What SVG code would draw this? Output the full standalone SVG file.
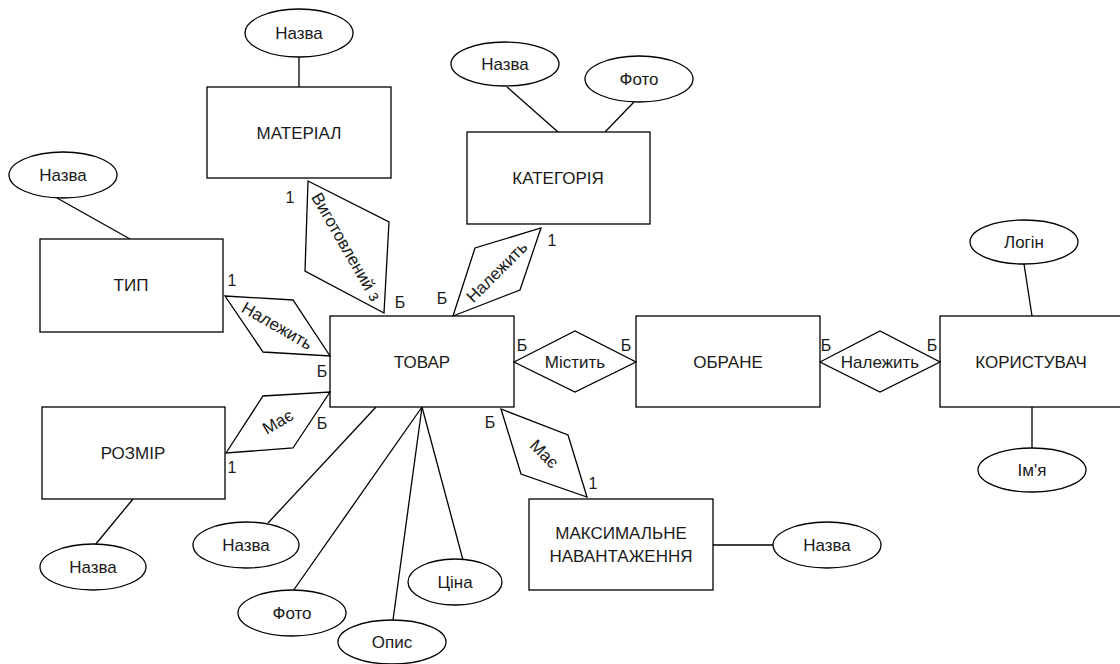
<svg xmlns="http://www.w3.org/2000/svg" width="1120" height="664" viewBox="0 0 1120 664">
<style>
.n{fill:#fff;stroke:#000;stroke-width:1.3}
.c{fill:none;stroke:#000;stroke-width:1.3}
text{font-family:"Liberation Sans",Arial,sans-serif;font-size:17px;fill:#1a1a1a;text-anchor:middle;dominant-baseline:central}
.l{font-size:16px}
</style>
<rect width="1120" height="664" fill="#fff"/>
<g id="connectors">
<line class="c" x1="299" y1="57" x2="299" y2="87"/>
<line class="c" x1="57" y1="198" x2="130" y2="239"/>
<line class="c" x1="507" y1="87" x2="558" y2="132"/>
<line class="c" x1="634" y1="102" x2="605" y2="132"/>
<line class="c" x1="1024" y1="264" x2="1032" y2="316"/>
<line class="c" x1="1032" y1="407" x2="1032" y2="448"/>
<line class="c" x1="133" y1="499" x2="95" y2="545"/>
<line class="c" x1="376" y1="407" x2="268" y2="523"/>
<line class="c" x1="422" y1="407" x2="293" y2="591"/>
<line class="c" x1="422" y1="407" x2="393" y2="620"/>
<line class="c" x1="422" y1="407" x2="463" y2="560"/>
<line class="c" x1="713" y1="545" x2="773" y2="545"/>
</g>
<g id="material"><rect class="n" x="207" y="87" width="184" height="91"/><text x="299" y="133">МАТЕРІАЛ</text></g>
<g id="category"><rect class="n" x="467" y="132" width="183" height="92"/><text x="558" y="178">КАТЕГОРІЯ</text></g>
<g id="type"><rect class="n" x="40" y="239" width="183" height="93"/><text x="131" y="285">ТИП</text></g>
<g id="tovar"><rect class="n" x="330" y="316" width="184" height="91"/><text x="422" y="362">ТОВАР</text></g>
<g id="obrane"><rect class="n" x="636" y="316" width="184" height="91"/><text x="728" y="362">ОБРАНЕ</text></g>
<g id="korystuvach"><rect class="n" x="940" y="316" width="184" height="91"/><text x="1031" y="362">КОРИСТУВАЧ</text></g>
<g id="rozmir"><rect class="n" x="42" y="407" width="183" height="92"/><text x="133" y="453">РОЗМІР</text></g>
<g id="maks"><rect class="n" x="529" y="499" width="184" height="91"/><text x="621" y="533">МАКСИМАЛЬНЕ</text><text x="621" y="556">НАВАНТАЖЕННЯ</text></g>

<g id="a-mat-nazva"><ellipse class="n" cx="299" cy="33" rx="54" ry="24"/><text x="299" y="33">Назва</text></g>
<g id="a-typ-nazva"><ellipse class="n" cx="63" cy="175" rx="54" ry="23"/><text x="63" y="175">Назва</text></g>
<g id="a-cat-nazva"><ellipse class="n" cx="505" cy="64" rx="54" ry="22"/><text x="505" y="64">Назва</text></g>
<g id="a-cat-foto"><ellipse class="n" cx="639" cy="79" rx="54" ry="23"/><text x="639" y="79">Фото</text></g>
<g id="a-login"><ellipse class="n" cx="1024" cy="242" rx="54" ry="22"/><text x="1024" y="242">Логін</text></g>
<g id="a-imya"><ellipse class="n" cx="1032" cy="470" rx="54" ry="22"/><text x="1032" y="470">Ім'я</text></g>
<g id="a-roz-nazva"><ellipse class="n" cx="93" cy="567" rx="53" ry="23"/><text x="93" y="567">Назва</text></g>
<g id="a-tov-nazva"><ellipse class="n" cx="246" cy="545" rx="53" ry="23"/><text x="246" y="545">Назва</text></g>
<g id="a-tov-foto"><ellipse class="n" cx="292" cy="613" rx="54" ry="23"/><text x="292" y="613">Фото</text></g>
<g id="a-tov-opys"><ellipse class="n" cx="392" cy="642" rx="54" ry="22"/><text x="392" y="642">Опис</text></g>
<g id="a-tov-tsina"><ellipse class="n" cx="455" cy="582" rx="47" ry="23"/><text x="455" y="582">Ціна</text></g>
<g id="a-maks-nazva"><ellipse class="n" cx="827" cy="545" rx="54" ry="23"/><text x="827" y="545">Назва</text></g>

<g id="r-vygotovlenyi"><polygon class="n" points="308,181 389,222 384,313 305,271"/><text transform="translate(346,247) rotate(60)">Виготовлений з</text></g>
<g id="r-typ"><polygon class="n" points="225,296 293,300 330,356 263,352"/><text transform="translate(277,326) rotate(30)">Належить</text></g>
<g id="r-rozmir"><polygon class="n" points="226,453 263,396 330,392 293,448"/><text transform="translate(278,422) rotate(-30)">Має</text></g>
<g id="r-cat"><polygon class="n" points="541,228 520,290 453,316 475,248"/><text transform="translate(497,272) rotate(-45)">Належить</text></g>
<g id="r-maks"><polygon class="n" points="501,409 568,435 587,497 521,474"/><text transform="translate(544,454) rotate(45)">Має</text></g>
<g id="r-mistyt"><polygon class="n" points="514,362 575,331 636,362 575,392"/><text x="575" y="362">Містить</text></g>
<g id="r-nalezhyt"><polygon class="n" points="820,362 880,331 940,362 880,392"/><text x="880" y="362">Належить</text></g>

<g id="cardinalities" class="l">
<text class="l" x="290" y="197">1</text>
<text class="l" x="400" y="302">Б</text>
<text class="l" x="232" y="280">1</text>
<text class="l" x="322" y="371">Б</text>
<text class="l" x="232" y="467">1</text>
<text class="l" x="322" y="423">Б</text>
<text class="l" x="552" y="240">1</text>
<text class="l" x="442" y="298">Б</text>
<text class="l" x="522" y="345">Б</text>
<text class="l" x="626" y="345">Б</text>
<text class="l" x="826" y="345">Б</text>
<text class="l" x="932" y="345">Б</text>
<text class="l" x="490" y="422">Б</text>
<text class="l" x="593" y="483">1</text>
</g>
</svg>
